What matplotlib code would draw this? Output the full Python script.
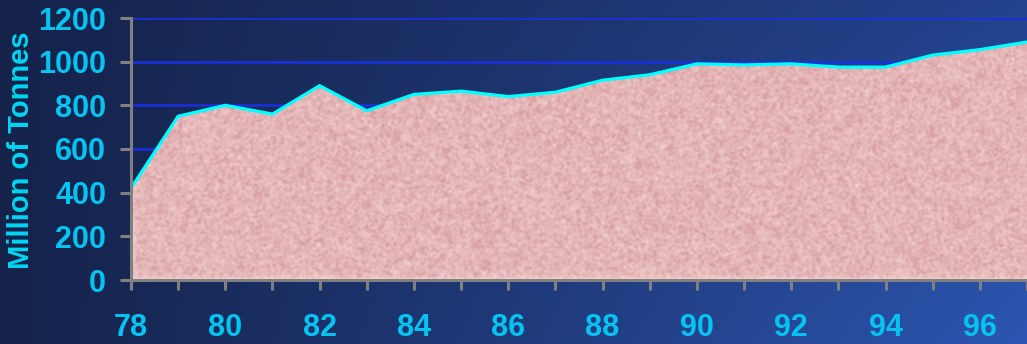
import numpy as np
import matplotlib
matplotlib.use("Agg")
import matplotlib.pyplot as plt

# Annual production, million tonnes
years = [78, 79, 80, 81, 82, 83, 84, 85, 86, 87, 88, 89, 90, 91, 92, 93, 94, 95, 96, 97]
tonnes = [420, 750, 800, 760, 890, 775, 850, 865, 840, 860, 915, 940, 990, 985, 990, 975, 975, 1030, 1055, 1090]
y_ticks = [0, 200, 400, 600, 800, 1000, 1200]
x_label_ticks = [78, 80, 82, 84, 86, 88, 90, 92, 94, 96]

W, H = 1027, 344
fig = plt.figure(figsize=(W / 100, H / 100), dpi=100)

# Navy-to-blue gradient backdrop
bg = fig.add_axes([0, 0, 1, 1], zorder=0)
bg.set_axis_off()
gx = np.linspace(0, 1, 400)[None, :]
gy = np.linspace(0, 1, 100)[:, None]
left_c = np.array([0x15, 0x23, 0x4b]) / 255
right_top = np.array([0x24, 0x43, 0x8e]) / 255
right_bot = np.array([0x2c, 0x56, 0xb2]) / 255
right_c = right_top[None, None, :] * (1 - gy[..., None]) + right_bot[None, None, :] * gy[..., None]
t = gx[..., None] ** 1.1
grad = left_c[None, None, :] * (1 - t) + right_c * t
bg.imshow(grad, aspect="auto", extent=[0, 1, 0, 1], origin="upper")
bg.set_xlim(0, 1)
bg.set_ylim(0, 1)

left = 131 / W
bottom = 1 - 280 / H
top = 1 - 18 / H
ax = fig.add_axes([left, bottom, 1 - left, top - bottom], zorder=1)
ax.patch.set_alpha(0)

x_right = 78 + (W - 131) / 47.44
ax.set_xlim(78, x_right)
ax.set_ylim(0, 1200)

# Grid lines behind the filled area
for v in y_ticks[1:]:
    ax.axhline(v, color="#1830e0", lw=1.8, zorder=1)

# Filled area with a mottled pink texture
poly = ax.fill_between(years, tonnes, 0, color="#eac0c0", lw=0, zorder=2)


def smooth(a, k):
    kern = np.ones(k) / k
    a = np.apply_along_axis(lambda r: np.convolve(r, kern, mode="same"), 1, a)
    return np.apply_along_axis(lambda c: np.convolve(c, kern, mode="same"), 0, a)


rng = np.random.default_rng(11)
shape = (270, 920)
tex = (0.5 * smooth(smooth(rng.random(shape), 3), 2)
       + 0.35 * smooth(smooth(rng.random(shape), 7), 5)
       + 0.25 * smooth(smooth(rng.random(shape), 15), 9))
lo, hi = np.percentile(tex, [1, 99])
tex = np.clip((tex - lo) / (hi - lo), 0, 1) ** 1.4
light = np.array([0xf4, 0xd2, 0xd1]) / 255
dark = np.array([0xd8, 0xa0, 0xa4]) / 255
img = light[None, None, :] * (1 - tex[..., None]) + dark[None, None, :] * tex[..., None]
im = ax.imshow(img, extent=[78, 97.2, 0, 1200], aspect="auto", zorder=3, interpolation="bilinear")
im.set_clip_path(poly.get_paths()[0], transform=ax.transData)
ax.set_xlim(78, x_right)
ax.set_ylim(0, 1200)

ax.plot(years, tonnes, color="#00ffff", lw=2.3, zorder=4, solid_joinstyle="miter")

for s in ("top", "right"):
    ax.spines[s].set_visible(False)
for s in ("left", "bottom"):
    ax.spines[s].set_color("#808080")
    ax.spines[s].set_linewidth(2.2)
    ax.spines[s].set_zorder(5)

tick_color = "#06c4f2"
font = ["Liberation Sans", "DejaVu Sans"]
ax.set_yticks(y_ticks)
ax.set_yticklabels([str(v) for v in y_ticks], fontsize=22, fontweight="bold",
                   color=tick_color, family=font)
ax.set_xticks(years)
ax.set_xticklabels([str(y) if y in x_label_ticks else "" for y in years],
                   fontsize=22, fontweight="bold", color=tick_color, family=font)
ax.tick_params(axis="y", direction="out", length=8, width=2.2, color="#808080", pad=10)
ax.tick_params(axis="x", direction="out", length=7.5, width=2.2, color="#808080", pad=16)

fig.text(21 / W, 1 - 150 / H, "Million of Tonnes", rotation=90, ha="center", va="center",
         fontsize=21, fontweight="bold", color="#00d6f2", family=font)

fig.savefig("out.png", dpi=100)
